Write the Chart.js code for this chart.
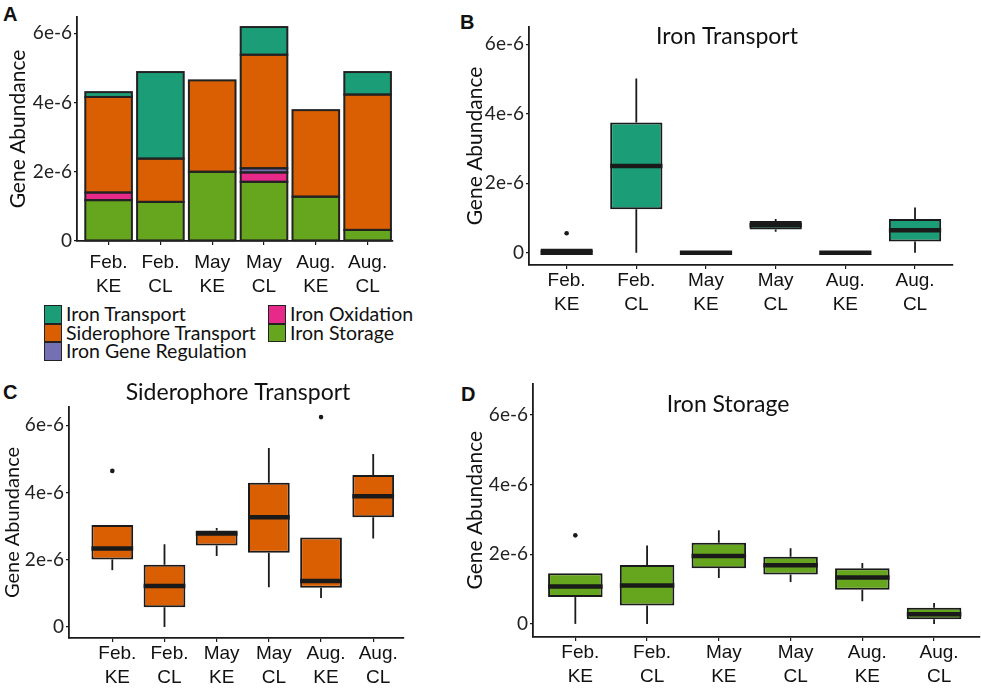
<!DOCTYPE html>
<html>
<head>
<meta charset="utf-8">
<script src="https://cdn.jsdelivr.net/npm/chart.js@4.4.1/dist/chart.umd.min.js"></script>
<style>
  body { margin: 0; background: #fff; width: 981px; height: 689px; position: relative; overflow: hidden; font-family: Lato, sans-serif; color: #111; }
  .panel { position: absolute; }
  .tag { position: absolute; font: bold 20px "Liberation Sans", Arial, sans-serif; line-height: 20px; color: #111; }
  .legend-col { position: absolute; top: 305px; }
  .legend-item { display: flex; align-items: center; height: 18.5px; }
  .swatch { width: 18px; height: 18.5px; box-sizing: border-box; border: 1.8px solid #222; margin-right: 4px; }
  .legend-item span { font-size: 19.5px; line-height: 18.5px; white-space: nowrap; }
</style>
</head>
<body>
<div class="tag" style="left:3px;top:4px">A</div>
<div class="tag" style="left:460px;top:12px">B</div>
<div class="tag" style="left:3px;top:382px">C</div>
<div class="tag" style="left:461px;top:384px">D</div>

<div class="panel" style="left:0;top:0;width:410px;height:300px"><canvas id="chartA"></canvas></div>
<div class="panel" style="left:440px;top:0;width:541px;height:330px"><canvas id="chartB"></canvas></div>
<div class="panel" style="left:0;top:370px;width:440px;height:319px"><canvas id="chartC"></canvas></div>
<div class="panel" style="left:460px;top:370px;width:521px;height:319px"><canvas id="chartD"></canvas></div>
<div id="legend"></div>

<script>
const categories = [['Feb.', 'KE'], ['Feb.', 'CL'], ['May', 'KE'], ['May', 'CL'], ['Aug.', 'KE'], ['Aug.', 'CL']];
const yTicks = [0, 2e-6, 4e-6, 6e-6];

// panel A, mean gene abundance per group
const groupNames = ['Iron Transport', 'Siderophore Transport', 'Iron Gene Regulation', 'Iron Oxidation', 'Iron Storage'];
const groupColors = ['#1b9e77', '#d95f02', '#7570b3', '#e7298a', '#66a61e'];
const ironTransport = [0.14e-6, 2.50e-6, 0, 0.80e-6, 0, 0.65e-6];
const siderophoreTransport = [2.76e-6, 1.25e-6, 2.64e-6, 3.28e-6, 2.50e-6, 3.91e-6];
const ironRegulation = [0, 0, 0, 0.12e-6, 0, 0];
const ironOxidation = [0.22e-6, 0, 0, 0.27e-6, 0, 0];
const ironStorage = [1.18e-6, 1.13e-6, 2.00e-6, 1.71e-6, 1.28e-6, 0.32e-6];
const groupValues = [ironTransport, siderophoreTransport, ironRegulation, ironOxidation, ironStorage];

// box stats: [lower whisker, q1, median, q3, upper whisker]
const transportStats = [
  [0, 0, 0, 0.12e-6, 0.12e-6],
  [0, 1.25e-6, 2.50e-6, 3.75e-6, 5.02e-6],
  [0, 0, 0, 0.02e-6, 0.02e-6],
  [0.60e-6, 0.67e-6, 0.79e-6, 0.91e-6, 0.97e-6],
  [0, 0, 0, 0.02e-6, 0.02e-6],
  [0, 0.32e-6, 0.65e-6, 0.97e-6, 1.30e-6]
];
const transportOutliers = [[0.56e-6], [], [], [], [], []];

const siderophoreStats = [
  [1.69e-6, 2.01e-6, 2.33e-6, 3.03e-6, 3.03e-6],
  [0, 0.59e-6, 1.22e-6, 1.85e-6, 2.46e-6],
  [2.11e-6, 2.42e-6, 2.78e-6, 2.87e-6, 2.94e-6],
  [1.18e-6, 2.21e-6, 3.26e-6, 4.29e-6, 5.32e-6],
  [0.86e-6, 1.17e-6, 1.37e-6, 2.66e-6, 2.66e-6],
  [2.63e-6, 3.26e-6, 3.89e-6, 4.52e-6, 5.14e-6]
];
const siderophoreOutliers = [[4.64e-6], [], [], [], [6.24e-6], []];

const storageStats = [
  [0, 0.77e-6, 1.07e-6, 1.45e-6, 1.45e-6],
  [0, 0.53e-6, 1.10e-6, 1.69e-6, 2.25e-6],
  [1.32e-6, 1.60e-6, 1.95e-6, 2.33e-6, 2.69e-6],
  [1.20e-6, 1.42e-6, 1.68e-6, 1.93e-6, 2.17e-6],
  [0.65e-6, 0.98e-6, 1.33e-6, 1.60e-6, 1.75e-6],
  [0, 0.13e-6, 0.28e-6, 0.46e-6, 0.60e-6]
];
const storageOutliers = [[2.54e-6], [], [], [], [], []];

const ink = '#1a1a1a';

function fmtTick(v) {
  return v === 0 ? '0' : Math.round(v * 1e6) + 'e-6';
}

function axes(o) {
  return {
    x: {
      type: 'linear', offset: false, min: o.xMin, max: o.xMax, stacked: !!o.stacked,
      afterBuildTicks: s => { s.ticks = categories.map((c, i) => ({ value: i })); },
      afterFit: s => { s.height = o.xHeight; },
      grid: { drawOnChartArea: false, offset: false, color: ink, tickLength: 4, lineWidth: 1.2 },
      border: { color: ink, width: 1.8 },
      ticks: {
        font: { family: 'Liberation Sans', size: 19, lineHeight: 1.25 }, color: '#111',
        padding: o.xPad, labelOffset: o.labelOffset || 0, maxRotation: 0, autoSkip: false,
        callback: v => categories[v]
      }
    },
    y: {
      min: o.yMin, max: o.yMax, stacked: !!o.stacked,
      afterBuildTicks: s => { s.ticks = yTicks.map(v => ({ value: v })); },
      afterFit: s => { s.width = o.yWidth; },
      grid: { drawOnChartArea: false, color: ink, tickLength: 3, lineWidth: 1.2 },
      border: { color: ink, width: 1.8 },
      ticks: { font: { family: 'Lato', size: 19 }, color: '#222', padding: 2, callback: fmtTick },
      title: {
        display: true, text: 'Gene Abundance', color: '#111',
        font: { family: 'Lato', size: o.titleSize || 21 }, padding: { top: o.titlePad, bottom: 0 }
      }
    }
  };
}

function titlePlugin(text, x, y) {
  return {
    id: 'panelTitle',
    afterDraw(chart) {
      const ctx = chart.ctx;
      ctx.save();
      ctx.font = '23px Lato';
      ctx.fillStyle = '#111';
      ctx.textAlign = 'center';
      ctx.textBaseline = 'middle';
      ctx.fillText(text, x, y);
      ctx.restore();
    }
  };
}

// ggplot-style outline: stroke centred on every segment edge
const outlinePlugin = {
  id: 'outline',
  afterDatasetsDraw(chart) {
    const ctx = chart.ctx;
    ctx.save();
    ctx.strokeStyle = '#222';
    ctx.lineWidth = 2;
    chart.data.datasets.forEach((ds, d) => {
      chart.getDatasetMeta(d).data.forEach(bar => {
        const h = Math.abs(bar.base - bar.y);
        if (h < 0.5) return;
        ctx.strokeRect(bar.x - bar.width / 2, Math.min(bar.y, bar.base), bar.width, h);
      });
    });
    ctx.restore();
  }
};

function boxPlugin(stats, outliers) {
  return {
    id: 'boxes',
    beforeDatasetsDraw(chart) {
      const ctx = chart.ctx, y = chart.scales.y;
      const bars = chart.getDatasetMeta(0).data;
      ctx.save();
      ctx.strokeStyle = ink;
      ctx.lineWidth = 1.8;
      stats.forEach((s, i) => {
        const x = bars[i].x;
        ctx.beginPath();
        ctx.moveTo(x, y.getPixelForValue(s[0]));
        ctx.lineTo(x, y.getPixelForValue(s[1]));
        ctx.moveTo(x, y.getPixelForValue(s[3]));
        ctx.lineTo(x, y.getPixelForValue(s[4]));
        ctx.stroke();
      });
      ctx.restore();
    },
    afterDatasetsDraw(chart) {
      const ctx = chart.ctx, y = chart.scales.y;
      const bars = chart.getDatasetMeta(0).data;
      ctx.save();
      ctx.strokeStyle = ink;
      ctx.fillStyle = ink;
      ctx.lineWidth = 4.5;
      stats.forEach((s, i) => {
        const b = bars[i], py = y.getPixelForValue(s[2]);
        ctx.beginPath();
        ctx.moveTo(b.x - b.width / 2, py);
        ctx.lineTo(b.x + b.width / 2, py);
        ctx.stroke();
        outliers[i].forEach(v => {
          ctx.beginPath();
          ctx.arc(b.x, y.getPixelForValue(v), 2.3, 0, Math.PI * 2);
          ctx.fill();
        });
      });
      ctx.restore();
    }
  };
}

const base = {
  responsive: true,
  maintainAspectRatio: false,
  animation: false,
  events: [],
  plugins: { legend: { display: false }, tooltip: { enabled: false } }
};

// A: stacked bars, storage at the bottom
new Chart(document.getElementById('chartA'), {
  type: 'bar',
  data: {
    labels: categories.map((c, i) => i),
    datasets: groupNames.map((name, g) => ({
      label: name,
      data: groupValues[g],
      backgroundColor: groupColors[g],
      borderWidth: 0,
      inflateAmount: 0,
      barPercentage: 0.9,
      categoryPercentage: 1
    })).reverse()
  },
  options: Object.assign({}, base, {
    layout: { padding: { left: 0, top: 17, right: 17, bottom: 0 } },
    scales: axes({ xMin: -0.61, xMax: 5.49, yMin: 0, yMax: 6.47e-6, xHeight: 59, yWidth: 77, xPad: 6, titlePad: 5.7, stacked: true })
  }),
  plugins: [outlinePlugin]
});

function boxChart(id, stats, outliers, color, title, o) {
  new Chart(document.getElementById(id), {
    type: 'bar',
    data: {
      labels: categories.map((c, i) => i),
      datasets: [{
        data: stats.map(s => [s[1], s[3]]),
        backgroundColor: color,
        borderColor: ink,
        borderWidth: 2,
        borderSkipped: false,
        inflateAmount: 0,
        barPercentage: o.boxWidth,
        categoryPercentage: 1
      }]
    },
    options: Object.assign({}, base, {
      layout: { padding: o.padding },
      scales: axes(o)
    }),
    plugins: [boxPlugin(stats, outliers), titlePlugin(title, o.titleX, o.titleY)]
  });
}

boxChart('chartB', transportStats, transportOutliers, '#1b9e77', 'Iron Transport', {
  padding: { left: 0, top: 27, right: 28, bottom: 0 },
  xMin: -0.54, xMax: 5.545, yMin: -0.354e-6, yMax: 6.5e-6,
  xHeight: 65, yWidth: 89, xPad: 0, titlePad: 22.4, boxWidth: 0.75, titleX: 287, titleY: 37
});

boxChart('chartC', siderophoreStats, siderophoreOutliers, '#d95f02', 'Siderophore Transport', {
  padding: { left: 0, top: 37, right: 36, bottom: 0 },
  xMin: -0.83, xMax: 5.59, yMin: -0.327e-6, yMax: 6.54e-6,
  xHeight: 51, yWidth: 69, xPad: 0, labelOffset: 5, titlePad: 1, titleSize: 20, boxWidth: 0.8, titleX: 238, titleY: 23
});

boxChart('chartD', storageStats, storageOutliers, '#66a61e', 'Iron Storage', {
  padding: { left: 0, top: 10, right: 1, bottom: 0 },
  xMin: -0.59, xMax: 5.64, yMin: -0.376e-6, yMax: 6.9e-6,
  xHeight: 52, yWidth: 73, xPad: 0, labelOffset: 5, titlePad: 2.4, boxWidth: 0.76, titleX: 268, titleY: 35
});

// legend for panel A, two columns
const legendCols = [{ left: 44, items: [0, 1, 2] }, { left: 268, items: [3, 4] }];
const legend = document.getElementById('legend');
legendCols.forEach(col => {
  const div = document.createElement('div');
  div.className = 'legend-col';
  div.style.left = col.left + 'px';
  col.items.forEach(g => {
    const item = document.createElement('div');
    item.className = 'legend-item';
    const sw = document.createElement('div');
    sw.className = 'swatch';
    sw.style.background = groupColors[g];
    const label = document.createElement('span');
    label.textContent = groupNames[g];
    item.appendChild(sw);
    item.appendChild(label);
    div.appendChild(item);
  });
  legend.appendChild(div);
});
</script>
</body>
</html>
